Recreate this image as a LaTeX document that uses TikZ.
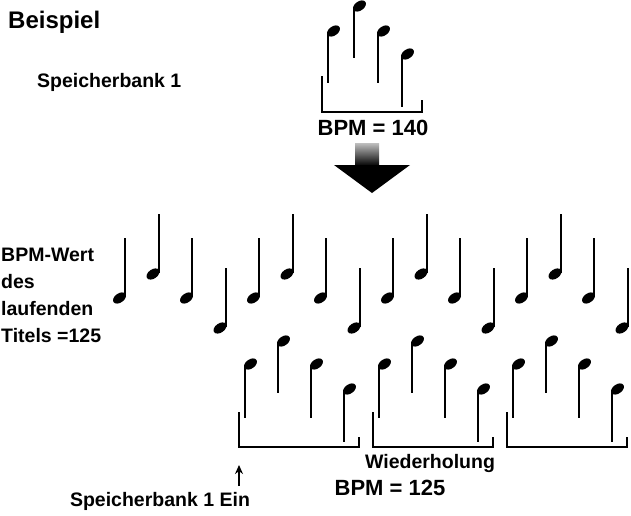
\documentclass[tikz,border=0pt]{standalone}
\usepackage{fontspec}
\setmainfont{Liberation Sans}
\usetikzlibrary{arrows.meta}
\begin{document}
\begin{tikzpicture}[x=1pt,y=-1pt,
  stem/.style={line width=2pt},
  br/.style={line width=1.4pt},
  head/.style={fill=black},
  lbl/.style={font=\bfseries\fontsize{19.5}{22}\selectfont,inner sep=0pt},
  big/.style={font=\bfseries\fontsize{22}{24}\selectfont,inner sep=0pt}]
\useasboundingbox (0,0) rectangle (631,515);
\newcommand\nUp[3]{\draw[stem] (#1,#2) -- (#1,#3);
  \fill[head,rotate around={35:(#1+5.5,#2-1)}] (#1+5.5,#2-1) ellipse (7.2 and 4.6);}
\newcommand\nDn[3]{\draw[stem] (#1,#2) -- (#1,#3);
  \fill[head,rotate around={35:(#1-5.5,#3+1)}] (#1-5.5,#3+1) ellipse (7.2 and 4.6);}
% texts
\node[anchor=west,font=\bfseries\fontsize{24}{26}\selectfont,inner sep=0pt] (t1) at (8,22) {Beispiel};
\node[anchor=west,lbl] (t2) at (37,82) {Speicherbank 1};
\node[anchor=west,lbl] (t3a) at (1,255) {BPM-Wert};
\node[anchor=west,lbl] (t3b) at (1,282) {des};
\node[anchor=west,lbl] (t3c) at (1,309) {laufenden};
\node[anchor=west,lbl] (t3d) at (1,336) {Titels =125};
% top group
\nUp{328}{32}{83}\nUp{354}{7}{58}\nUp{378}{32}{83}\nUp{402}{55}{107}
\draw[br] (322,76) -- (322,112) -- (422,112) -- (422,100);
\node[big] (b1) at (373,128) {BPM = 140};
% arrow
\shade[top color=white!75!black,bottom color=black] (355,143) rectangle (379,166);
\fill (334,165) -- (410,165) -- (372,193) -- cycle;
% middle row
\foreach \i in {0,...,15}{
  \pgfmathtruncatemacro\m{mod(\i,4)}
  \pgfmathsetmacro\xx{125+33.5*\i}
  \ifcase\m \def\hy{297}\or \def\hy{273}\or \def\hy{297}\or \def\hy{327}\fi
  \nDn{\xx}{\hy-59}{\hy}
}
% bottom groups
\foreach \d in {0,134,268}{
  \nUp{245+\d}{365}{418}\nUp{278+\d}{342}{393}\nUp{311+\d}{365}{418}\nUp{344+\d}{390}{442}
}
\draw[br] (239,412) -- (239,447) -- (359,447) -- (359,437);
\draw[br] (373,412) -- (373,447) -- (493,447) -- (493,437);
\draw[br] (507,412) -- (507,447) -- (627,447) -- (627,437);
\coordinate (a0) at (239,486);
\coordinate (a1) at (239,465);
\draw[line width=1.3pt,-{Stealth[length=9pt,width=8pt]}] (a0) -- (a1);
\node[lbl] (w) at (430,463) {Wiederholung};
\node[big] (b2) at (390,488) {BPM = 125};
\node[lbl] (s) at (160,501) {Speicherbank 1 Ein};
\end{tikzpicture}
\end{document}
